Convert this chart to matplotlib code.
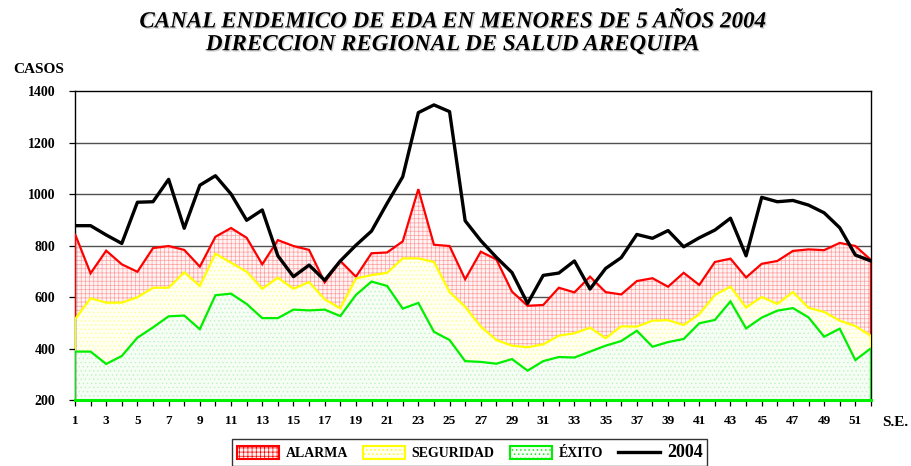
import matplotlib
matplotlib.use("Agg")
import matplotlib.pyplot as plt
import matplotlib.patheffects as pe
from matplotlib.patches import Patch
from matplotlib.lines import Line2D
import numpy as np

plt.rcParams['font.family'] = ['Liberation Serif', 'DejaVu Serif']
plt.rcParams['hatch.linewidth'] = 0.5

# semanas epidemiologicas
semanas = list(range(1, 53))

alarma = [845, 692, 780, 727, 698, 790, 798, 783, 718, 834, 868, 830, 727, 821, 798, 783, 657, 740,
          679, 770, 773, 816, 1019, 803, 798, 669, 776, 746, 621, 566, 569, 636, 618, 679,
          619, 610, 662, 673, 640, 694, 647, 736, 749, 676, 729, 740, 779, 785, 782, 810, 798, 744]
seguridad = [513, 595, 578, 578, 599, 636, 636, 696, 643, 768, 733, 698, 632, 675, 632, 658, 591, 556,
             672, 685, 694, 750, 750, 736, 619, 562, 485, 433, 411, 405, 416, 450, 459, 481,
             440, 486, 485, 508, 510, 491, 533, 608, 640, 559, 600, 573, 619, 558, 542, 508, 487, 449]
exito = [388, 388, 340, 371, 442, 482, 525, 528, 475, 607, 613, 573, 518, 518, 551, 548, 551, 526,
         608, 660, 643, 555, 577, 465, 433, 351, 348, 341, 359, 314, 351, 367, 365, 388,
         411, 429, 469, 407, 425, 437, 498, 511, 583, 478, 520, 547, 557, 521, 446, 477, 355, 401]
casos_2004 = [877, 877, 841, 808, 968, 970, 1057, 867, 1034, 1071, 1000, 898, 938, 760, 679, 724, 665, 740,
              801, 856, 964, 1067, 1316, 1346, 1320, 896, 819, 754, 695, 575, 684, 693, 740, 631,
              711, 753, 843, 828, 858, 795, 830, 860, 906, 760, 987, 970, 975, 957, 927, 869, 763, 740]

y_ticks = [200, 400, 600, 800, 1000, 1200, 1400]
base = 200

fig = plt.figure(figsize=(9.12, 4.66), dpi=100)
ax = fig.add_axes([0.0822, 0.1416, 0.8728, 0.6631])

x = np.array(semanas)
# (borde superior, borde inferior, fondo, color de trama, trama, color de linea)
zonas = [
    (np.array(alarma), np.array(seguridad), '#fff4f4', '#ffa0a0', '++++', '#ff0000'),
    (np.array(seguridad), np.array(exito), '#fffff2', '#ffff90', '....', '#ffff00'),
    (np.array(exito), np.full(len(x), base), '#f5fdf5', '#bff5bf', '....', '#00ee00'),
]
for top, bottom, fondo, trama, hatch, borde in zonas:
    ax.fill(np.r_[x, x[::-1]], np.r_[top, bottom[::-1]], facecolor=fondo,
            edgecolor=trama, hatch=hatch, linewidth=0, zorder=2)
    ax.plot(np.r_[x[0], x, x[-1]], np.r_[bottom[0], top, bottom[-1]],
            color=borde, linewidth=1.6, zorder=3, solid_joinstyle='miter')
ax.plot([x[0], x[-1]], [base, base], color='#00ee00', linewidth=2.2, zorder=3, clip_on=False)

ax.plot(x, casos_2004, color='black', linewidth=2.4, zorder=4)

ax.set_xlim(1, 52)
ax.set_ylim(200, 1400)
ax.set_yticks(y_ticks)
ax.set_yticklabels([str(v) for v in y_ticks], fontsize=10, fontweight='bold')
ax.set_xticks(semanas)
ax.set_xticklabels([str(s) if s % 2 else '' for s in semanas], fontsize=9.5, fontweight='bold')
ax.tick_params(axis='both', direction='out', length=4, width=0.9, color='black')
ax.tick_params(axis='y', pad=10)
ax.tick_params(axis='x', pad=7)
for v in y_ticks[1:-1]:
    ax.axhline(v, color='#505050', linewidth=1.0, zorder=1)
for s in ax.spines.values():
    s.set_color('black')
    s.set_linewidth(1.0)

sombra = [pe.SimplePatchShadow(offset=(1.0, -1.0), shadow_rgbFace='#999999', alpha=0.45), pe.Normal()]
fig.text(0.496, 0.953, 'CANAL ENDEMICO DE EDA EN MENORES DE 5 AÑOS 2004', ha='center', va='center',
         fontsize=16.6, fontweight='bold', fontstyle='italic', path_effects=sombra)
fig.text(0.496, 0.904, 'DIRECCION REGIONAL DE SALUD AREQUIPA', ha='center', va='center',
         fontsize=16.6, fontweight='bold', fontstyle='italic', path_effects=sombra)
fig.text(0.042, 0.850, 'CASOS', ha='center', va='center', fontsize=11, fontweight='bold')
fig.text(0.982, 0.094, 'S.E.', ha='center', va='center', fontsize=11, fontweight='bold')

handles = [
    Patch(facecolor='#fff4f4', edgecolor='#ff0000', hatch='++++', linewidth=1.5),
    Patch(facecolor='#fffff2', edgecolor='#ffff00', hatch='....', linewidth=1.5),
    Patch(facecolor='#f5fdf5', edgecolor='#00ee00', hatch='....', linewidth=1.5),
    Line2D([], [], color='black', linewidth=2.4),
]
leg = fig.legend(handles, ['ALARMA', 'SEGURIDAD', 'ÉXITO', '2004'], ncol=4, loc='upper center',
                 bbox_to_anchor=(0.515, 0.072), frameon=True, fancybox=False, edgecolor='black',
                 prop={'weight': 'bold', 'size': 10}, handlelength=3.0, handleheight=1.0,
                 columnspacing=1.1, handletextpad=0.5, borderpad=0.35)
leg.get_frame().set_linewidth(1.0)
leg.get_texts()[3].set_fontsize(13)

fig.savefig('out.png', dpi=100)
